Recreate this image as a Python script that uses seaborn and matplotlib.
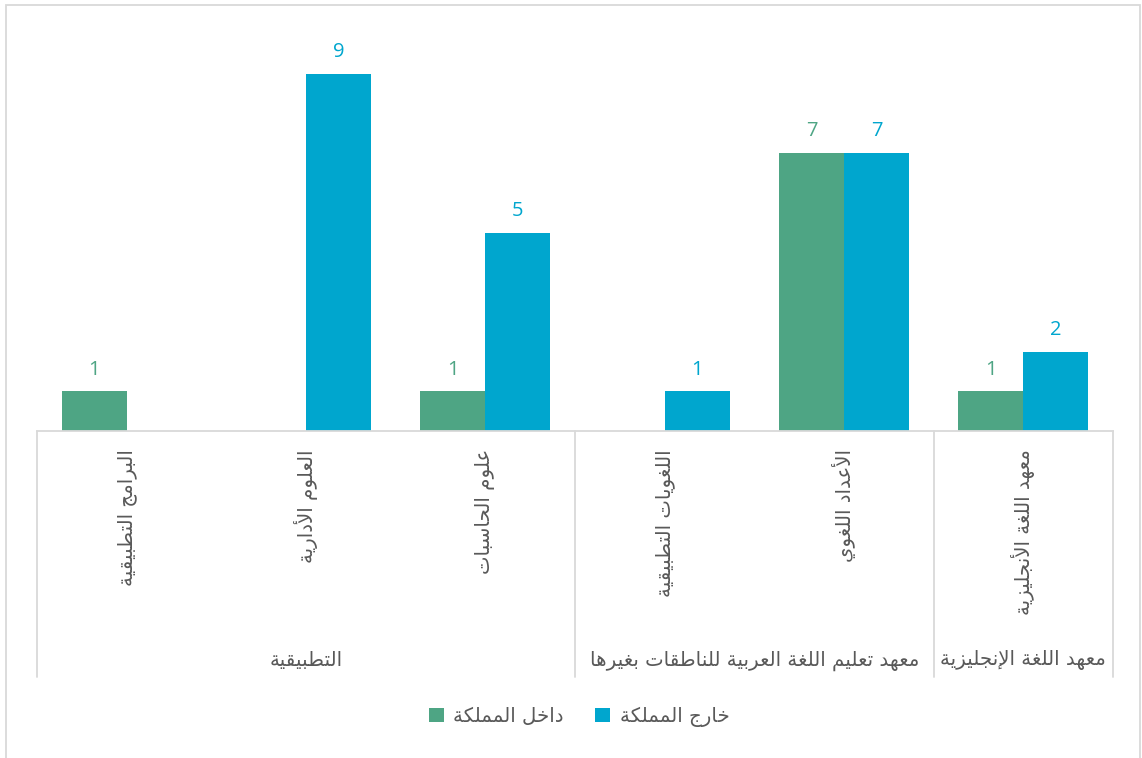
import pandas as pd
import matplotlib.pyplot as plt
import seaborn as sns
from matplotlib.patches import Rectangle

# Data
programs = ["البرامج التطبيقية", "العلوم الأدارية", "علوم الحاسبات",
            "اللغويات التطبيقية", "الأعداد اللغوي", "معهد اللغة الأنجليزية"]
groups = ["التطبيقية", "معهد تعليم اللغة العربية للناطقات بغيرها", "معهد اللغة الإنجليزية"]
group_sizes = [3, 2, 1]
inside = [1, 0, 1, 0, 7, 1]    # داخل المملكة
outside = [0, 9, 5, 1, 7, 2]   # خارج المملكة
series_names = ["داخل المملكة", "خارج المملكة"]

GREEN = "#4ea584"
BLUE = "#00a6ce"
TEXT = "#595959"
LINE = "#d9d9d9"
FS = 14.2

# matplotlib has no arabic shaping, so join the letters by hand
FORMS = {
    '\u0621': (0xFE80, 1), '\u0622': (0xFE81, 2), '\u0623': (0xFE83, 2), '\u0624': (0xFE85, 2),
    '\u0625': (0xFE87, 2), '\u0626': (0xFE89, 4), '\u0627': (0xFE8D, 2), '\u0628': (0xFE8F, 4),
    '\u0629': (0xFE93, 2), '\u062A': (0xFE95, 4), '\u062B': (0xFE99, 4), '\u062C': (0xFE9D, 4),
    '\u062D': (0xFEA1, 4), '\u062E': (0xFEA5, 4), '\u062F': (0xFEA9, 2), '\u0630': (0xFEAB, 2),
    '\u0631': (0xFEAD, 2), '\u0632': (0xFEAF, 2), '\u0633': (0xFEB1, 4), '\u0634': (0xFEB5, 4),
    '\u0635': (0xFEB9, 4), '\u0636': (0xFEBD, 4), '\u0637': (0xFEC1, 4), '\u0638': (0xFEC5, 4),
    '\u0639': (0xFEC9, 4), '\u063A': (0xFECD, 4), '\u0641': (0xFED1, 4), '\u0642': (0xFED5, 4),
    '\u0643': (0xFED9, 4), '\u0644': (0xFEDD, 4), '\u0645': (0xFEE1, 4), '\u0646': (0xFEE5, 4),
    '\u0647': (0xFEE9, 4), '\u0648': (0xFEED, 2), '\u0649': (0xFEEF, 2), '\u064A': (0xFEF1, 4),
}
LAM_ALEF = {'\u0622': 0xFEF5, '\u0623': 0xFEF7, '\u0625': 0xFEF9, '\u0627': 0xFEFB}


def shape(text):
    tokens = []
    i = 0
    while i < len(text):
        c = text[i]
        if c == '\u0644' and i + 1 < len(text) and text[i + 1] in LAM_ALEF:
            tokens.append(('LA', text[i + 1]))
            i += 2
        else:
            tokens.append(('C', c))
            i += 1

    def joins_next(tok):
        if tok[0] == 'LA':
            return False
        f = FORMS.get(tok[1])
        return f is not None and f[1] == 4

    def joins_prev(tok):
        if tok[0] == 'LA':
            return True
        f = FORMS.get(tok[1])
        return f is not None and f[1] >= 2

    out = []
    for k, tok in enumerate(tokens):
        prev = k > 0 and joins_next(tokens[k - 1]) and joins_prev(tok)
        nxt = k + 1 < len(tokens) and joins_next(tok) and joins_prev(tokens[k + 1])
        if tok[0] == 'LA':
            out.append(chr(LAM_ALEF[tok[1]] + (1 if prev else 0)))
            continue
        f = FORMS.get(tok[1])
        if f is None:
            out.append(tok[1])
            continue
        if prev and nxt:
            off = 3
        elif nxt:
            off = 2
        elif prev:
            off = 1
        else:
            off = 0
        out.append(chr(f[0] + off))
    return ''.join(reversed(out))


rows = []
for p, a, b in zip(programs, inside, outside):
    rows.append({"program": shape(p), "series": shape(series_names[0]), "value": a})
    rows.append({"program": shape(p), "series": shape(series_names[1]), "value": b})
df = pd.DataFrame(rows)

sns.set_style("white")
plt.rcParams['font.family'] = ['DejaVu Sans']

fig = plt.figure(figsize=(11.42, 7.58), dpi=100)
ax = fig.add_axes([37 / 1142, 1 - 431 / 758, (1113 - 37) / 1142, (431 - 34) / 758])

sns.barplot(data=df, x="program", y="value", hue="series",
            palette=[GREEN, BLUE], width=0.725, saturation=1, linewidth=0, ax=ax)

ax.set_ylim(0, 10)
ax.set_xlim(-0.5, len(programs) - 0.5)
ax.set_xlabel("")
ax.set_ylabel("")
ax.set_yticks([])
for s in ["top", "left", "right"]:
    ax.spines[s].set_visible(False)
ax.spines["bottom"].set_color(LINE)
ax.spines["bottom"].set_linewidth(1.3)
ax.tick_params(axis="x", length=0, pad=13, labelrotation=90, labelsize=FS, labelcolor=TEXT)

# value labels above the bars
for cont, col in zip(ax.containers, [GREEN, BLUE]):
    for bar in cont:
        h = bar.get_height()
        if h > 0:
            ax.annotate(f"{h:.0f}", (bar.get_x() + bar.get_width() / 2, h),
                        xytext=(0, 12), textcoords="offset points",
                        ha="center", va="baseline", fontsize=14.5, color=col,
                        family="Open Sans")

# second level of the category axis
tr = ax.get_xaxis_transform()
edges = [-0.5]
for n in group_sizes:
    edges.append(edges[-1] + n)
for e in edges:
    ax.plot([e, e], [0, -0.62], color=LINE, lw=1.3, transform=tr, clip_on=False)
for g, lo, hi in zip(groups, edges[:-1], edges[1:]):
    ax.text((lo + hi) / 2, -0.578, shape(g), transform=tr, ha="center", va="center",
            fontsize=FS, color=TEXT)

sns.move_legend(ax, "center", bbox_to_anchor=(0.504, -0.72), ncol=2, frameon=False,
                title=None, fontsize=FS, handlelength=0.75, handleheight=0.75,
                handletextpad=0.5, columnspacing=1.6, labelcolor=TEXT)

# light frame round the whole chart
fig.patches.append(Rectangle((6 / 1142, -0.01), (1140 - 6) / 1142, 1 - 5 / 758 + 0.01,
                             transform=fig.transFigure, fill=False,
                             edgecolor=LINE, lw=1.3))

fig.savefig("out.png", dpi=100)
